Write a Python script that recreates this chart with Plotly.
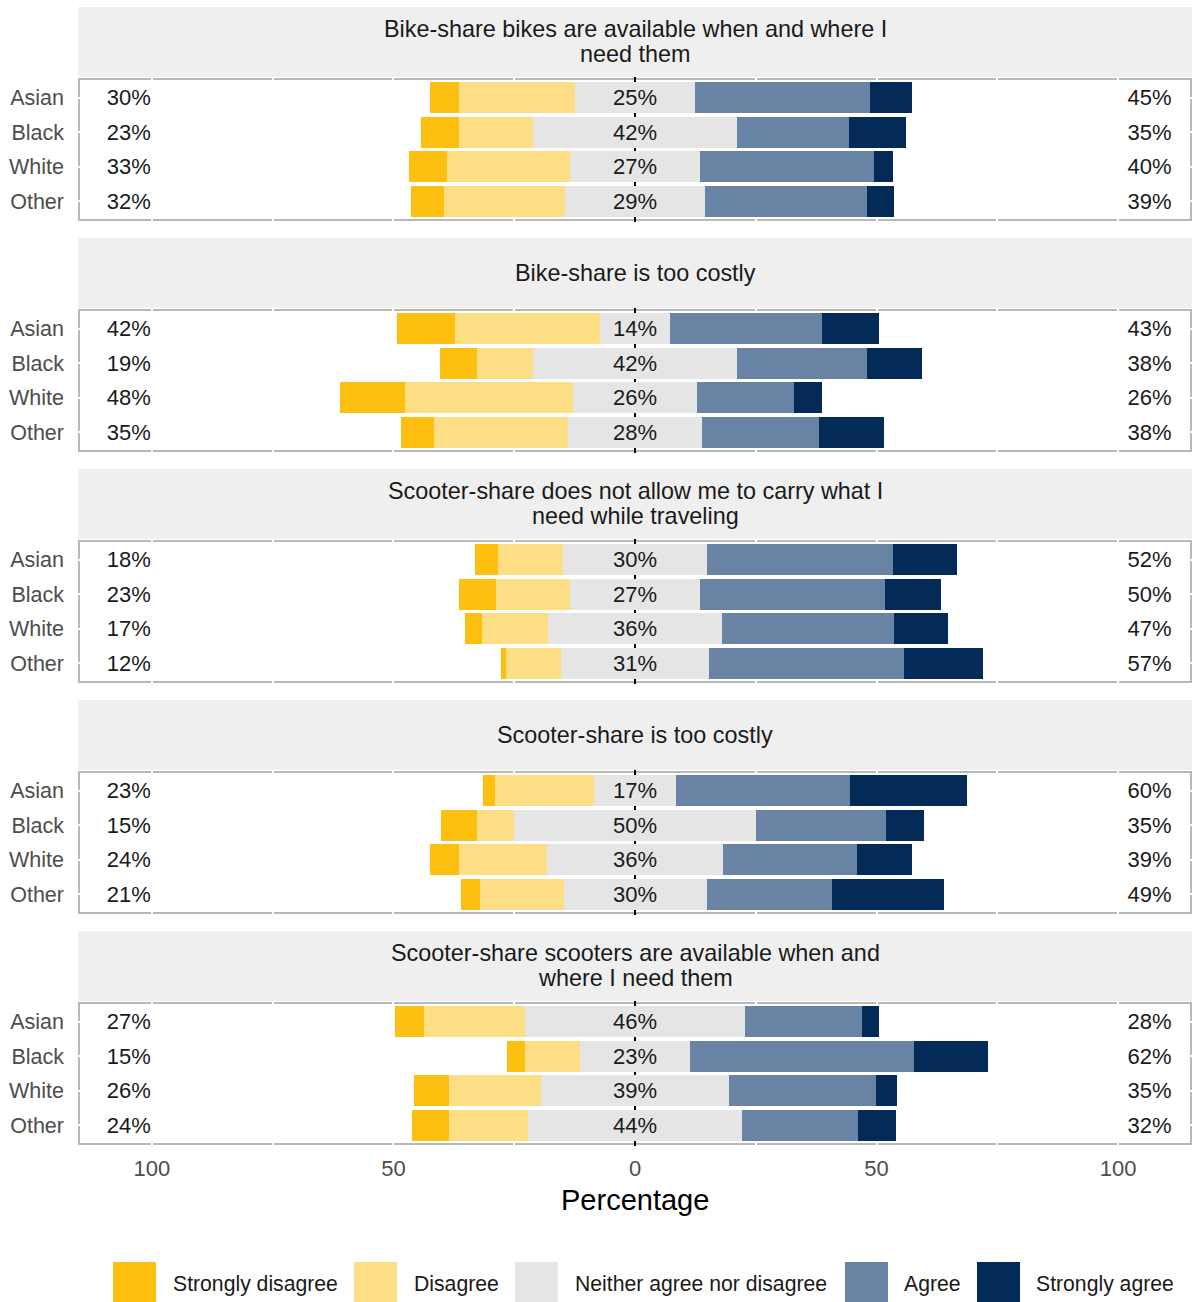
import plotly.graph_objects as go

# Survey statements (one facet each) and respondent groups (rows)
statements = [
    ["Bike-share bikes are available when and where I", "need them"],
    ["Bike-share is too costly"],
    ["Scooter-share does not allow me to carry what I", "need while traveling"],
    ["Scooter-share is too costly"],
    ["Scooter-share scooters are available when and", "where I need them"],
]
groups = ["Asian", "Black", "White", "Other"]

levels = ["Strongly disagree", "Disagree", "Neither agree nor disagree",
          "Agree", "Strongly agree"]

# Percent of respondents per response level: one list per statement, values per group
strongly_disagree = [
    [6.0, 7.7, 7.8, 6.8],
    [12.0, 7.5, 13.5, 6.7],
    [4.8, 7.7, 3.5, 1.0],
    [2.4, 7.5, 6.0, 4.0],
    [6.0, 3.7, 7.2, 7.6],
]
disagree = [
    [24.0, 15.4, 25.4, 25.0],
    [30.2, 11.7, 34.8, 27.9],
    [13.4, 15.4, 13.6, 11.3],
    [20.5, 7.8, 18.3, 17.3],
    [20.8, 11.4, 19.1, 16.4],
]
neutral = [
    [25.0, 42.2, 27.0, 29.0],
    [14.3, 42.2, 25.7, 27.6],
    [30.0, 26.8, 36.1, 30.7],
    [17.0, 49.9, 36.3, 29.6],
    [45.7, 22.9, 38.9, 44.3],
]
agree = [
    [36.2, 23.2, 35.9, 33.5],
    [31.5, 26.9, 20.1, 24.2],
    [38.5, 38.4, 35.5, 40.3],
    [36.1, 27.0, 27.9, 25.9],
    [24.1, 46.3, 30.5, 24.1],
]
strongly_agree = [
    [8.6, 11.7, 3.9, 5.7],
    [11.9, 11.4, 5.8, 13.5],
    [13.2, 11.5, 11.2, 16.3],
    [24.1, 7.8, 11.3, 23.2],
    [3.5, 15.4, 4.2, 7.7],
]

# Axis ticks
tick_vals = [-100, -75, -50, -25, 0, 25, 50, 75, 100]
tick_text = ["100", "", "50", "", "0", "", "50", "", "100"]

colors = ["#FDC010", "#FDDE84", "#E5E5E5", "#6983A4", "#042B57"]

FONT = "Liberation Sans, Arial, sans-serif"
W, H = 1198, 1302
PERIOD = 231          # vertical pixel pitch of one facet (strip + panel + gap)
X_LEFT, X_RIGHT = 77, 1193
X_RANGE = 115.5
LEFT_LABEL_X, RIGHT_LABEL_X = -104.8, 106.5
TEXT_NUDGE = 0.06     # small downward nudge so the labels sit on the bar centres


def py(px):
    """Pixel row -> paper y."""
    return 1 - px / H


def pxx(px):
    """Pixel column -> paper x."""
    return px / W


fig = go.Figure()
shapes = []
annotations = []
layout = {}

rows = list(range(len(groups)))

for k in range(len(statements)):
    ax = "" if k == 0 else str(k + 1)
    xref, yref = "x" + ax, "y" + ax

    sd, d, n = strongly_disagree[k], disagree[k], neutral[k]
    a, sa = agree[k], strongly_agree[k]

    # diverging stacks: neutral centred on zero
    half = [v / 2 for v in n]
    base_d = [-h - dv for h, dv in zip(half, d)]
    base_sd = [b - s for b, s in zip(base_d, sd)]
    base_n = [-h for h in half]
    base_a = list(half)
    base_sa = [h + av for h, av in zip(half, a)]

    stacks = [(sd, base_sd), (d, base_d), (n, base_n), (a, base_a), (sa, base_sa)]
    for lvl, (vals, bases) in enumerate(stacks):
        fig.add_trace(go.Bar(
            orientation="h", y=rows, x=vals, base=bases, width=0.9,
            marker=dict(color=colors[lvl], line=dict(width=0)),
            name=levels[lvl], showlegend=False,
            xaxis=xref, yaxis=yref, hoverinfo="skip",
        ))

    left_tot = [f"{round(s + dv)}%" for s, dv in zip(sd, d)]
    mid_tot = [f"{round(v)}%" for v in n]
    right_tot = [f"{round(av + s)}%" for av, s in zip(a, sa)]
    fig.add_trace(go.Scatter(
        mode="text",
        x=[LEFT_LABEL_X] * 4 + [0] * 4 + [RIGHT_LABEL_X] * 4,
        y=[r + TEXT_NUDGE for r in rows] * 3,
        text=left_tot + mid_tot + right_tot,
        textposition="middle center",
        textfont=dict(family=FONT, size=22, color="#1A1A1A"),
        showlegend=False, hoverinfo="skip",
        xaxis=xref, yaxis=yref,
    ))

    top_px = 77 + PERIOD * k
    bot_px = 222 + PERIOD * k
    bottom = k == len(statements) - 1

    layout["xaxis" + ax] = dict(
        domain=[pxx(X_LEFT), pxx(X_RIGHT)], range=[-X_RANGE, X_RANGE],
        anchor=yref, tickvals=tick_vals, ticktext=tick_text,
        showticklabels=bottom, ticks="", ticklabelstandoff=7,
        tickfont=dict(family=FONT, size=22, color="#4D4D4D"),
        showgrid=True, gridcolor="white", gridwidth=2,
        zeroline=True, zerolinecolor="black", zerolinewidth=2,
        showline=False, fixedrange=True,
    )
    layout["yaxis" + ax] = dict(
        domain=[py(bot_px), py(top_px)], range=[3.6, -0.6],
        anchor=xref, tickvals=rows, ticktext=groups, ticks="",
        ticklabelstandoff=12,
        tickfont=dict(family=FONT, size=21.5, color="#4D4D4D"),
        showgrid=True, gridcolor="white", gridwidth=2,
        zeroline=False, showline=False, fixedrange=True,
    )

    # panel border, beneath the white grid so grid lines cut through it
    ix = 2 / (X_RIGHT - X_LEFT)
    iy = 2 / (bot_px - top_px)
    shapes.append(dict(
        type="rect", xref=xref + " domain", yref=yref + " domain",
        x0=ix, x1=1 - ix, y0=iy, y1=1 - iy,
        line=dict(color="#B8B8B8", width=2), fillcolor="rgba(0,0,0,0)",
        layer="below",
    ))

    # facet strip
    s_top = 7 + PERIOD * k
    s_bot = 77 + PERIOD * k
    shapes.append(dict(
        type="rect", xref="paper", yref="paper",
        x0=pxx(78), x1=pxx(1192), y0=py(s_bot), y1=py(s_top),
        line=dict(width=0), fillcolor="#EFEFEF", layer="below",
    ))
    lines = statements[k]
    if len(lines) == 1:
        centers = [42 + PERIOD * k]
    else:
        centers = [29 + PERIOD * k, 54 + PERIOD * k]
    for txt, cy in zip(lines, centers):
        annotations.append(dict(
            text=txt, xref="paper", yref="paper", x=pxx(635), y=py(cy),
            xanchor="center", yanchor="middle", showarrow=False,
            font=dict(family=FONT, size=23.4, color="#1A1A1A"),
        ))

# x-axis title
annotations.append(dict(
    text="Percentage", xref="paper", yref="paper", x=pxx(635), y=py(1200),
    xanchor="center", yanchor="middle", showarrow=False,
    font=dict(family=FONT, size=29, color="black"),
))

# legend keys along the bottom
key_left = [113, 354, 515, 845, 977]
text_left = [172, 413, 574, 903, 1035]
for lvl in range(len(levels)):
    shapes.append(dict(
        type="rect", xref="paper", yref="paper",
        x0=pxx(key_left[lvl]), x1=pxx(key_left[lvl] + 43),
        y0=py(1306), y1=py(1262),
        line=dict(width=0), fillcolor=colors[lvl],
    ))
    annotations.append(dict(
        text=levels[lvl], xref="paper", yref="paper",
        x=pxx(text_left[lvl] - 1), y=py(1283.5),
        xanchor="left", yanchor="middle", showarrow=False,
        font=dict(family=FONT, size=21.2, color="#1A1A1A"),
    ))

fig.update_layout(
    width=W, height=H,
    margin=dict(l=0, r=0, t=0, b=0),
    paper_bgcolor="white", plot_bgcolor="white",
    barmode="overlay", bargap=0,
    showlegend=False,
    shapes=shapes, annotations=annotations,
    font=dict(family=FONT),
    **layout,
)

fig.write_html("out.html")
